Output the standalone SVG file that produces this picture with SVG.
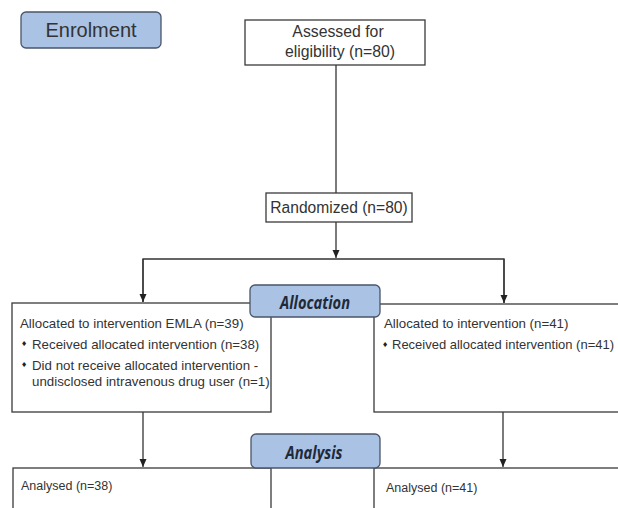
<svg xmlns="http://www.w3.org/2000/svg" width="618" height="508" viewBox="0 0 618 508">
<defs>
<marker id="ah" markerUnits="userSpaceOnUse" markerWidth="8" markerHeight="9" refX="8" refY="4" orient="auto" viewBox="0 0 8 8">
<path d="M0,0.5 L8,4 L0,7.5 Z" fill="#222"/>
</marker>
</defs>
<style>
.box{fill:#fff;stroke:#3a3a3a;stroke-width:1.3}
.hdr{fill:#aac2e4;stroke:#4a5568;stroke-width:1.3}
.t{font-family:"Liberation Sans",Arial,sans-serif;fill:#333}
.h{font-family:"Open Sans","Liberation Sans",sans-serif;font-style:italic;font-weight:700;fill:#1e2a3a}
.ln{stroke:#333;stroke-width:1.3;fill:none}
.b{font-family:"DejaVu Sans",sans-serif;font-size:7px;fill:#222}
</style>
<rect width="618" height="508" fill="#fff"/>
<g id="connectors">
<line class="ln" x1="336" y1="65" x2="336" y2="193"/>
<line class="ln" x1="336" y1="222" x2="336" y2="258" marker-end="url(#ah)"/>
<polyline class="ln" points="143,302 143,259 504,259 504,303"/>
<line class="ln" x1="143" y1="259" x2="143" y2="302" marker-end="url(#ah)"/>
<line class="ln" x1="504" y1="259" x2="504" y2="303" marker-end="url(#ah)"/>
<line class="ln" x1="143" y1="412" x2="143" y2="467" marker-end="url(#ah)"/>
<line class="ln" x1="503" y1="412" x2="503" y2="467" marker-end="url(#ah)"/>
</g>
<g id="enrolment">
<rect class="hdr" x="21" y="12" width="140" height="36" rx="5"/>
<text class="t" x="91" y="37" font-size="20" text-anchor="middle">Enrolment</text>
</g>
<g id="assessed">
<rect class="box" x="245" y="20" width="180" height="45"/>
<text class="t" x="338" y="37" font-size="15.8" text-anchor="middle">Assessed for</text>
<text class="t" x="340" y="57" font-size="15.8" text-anchor="middle">eligibility (n=80)</text>
</g>
<g id="randomized">
<rect class="box" x="266" y="193" width="146" height="29"/>
<text class="t" x="339" y="213" font-size="15.6" text-anchor="middle">Randomized (n=80)</text>
</g>
<g id="alloc-left">
<rect class="box" x="12" y="303" width="259" height="109"/>
<text class="t" x="20" y="328" font-size="13.3">Allocated to intervention EMLA (n=39)</text>
<text class="b" x="21" y="346">♦</text>
<text class="t" x="32" y="349" font-size="13.3">Received allocated intervention (n=38)</text>
<text class="b" x="21" y="367">♦</text>
<text class="t" x="32" y="370" font-size="13.3">Did not receive allocated intervention -</text>
<text class="t" x="32" y="386" font-size="13.3">undisclosed intravenous drug user (n=1)</text>
</g>
<g id="alloc-right">
<rect class="box" x="374" y="304" width="260" height="108"/>
<text class="t" x="384" y="328" font-size="13.3">Allocated to intervention (n=41)</text>
<text class="b" x="382" y="347">♦</text>
<text class="t" x="392" y="349" font-size="13.3" textLength="222" lengthAdjust="spacingAndGlyphs">Received allocated intervention (n=41)</text>
</g>
<g id="allocation">
<rect class="hdr" x="250" y="285" width="130" height="32" rx="5"/>
<text class="h" x="315" y="309" font-size="18" text-anchor="middle" textLength="70" lengthAdjust="spacingAndGlyphs">Allocation</text>
</g>
<g id="analysed-left">
<rect class="box" x="13" y="468" width="258" height="50"/>
<text class="t" x="21" y="490" font-size="12.5">Analysed (n=38)</text>
</g>
<g id="analysed-right">
<rect class="box" x="374" y="468" width="260" height="50"/>
<text class="t" x="386" y="492" font-size="12.5">Analysed (n=41)</text>
</g>
<g id="analysis">
<rect class="hdr" x="251" y="434" width="129" height="34" rx="5"/>
<text class="h" x="314" y="459" font-size="18" text-anchor="middle" textLength="57" lengthAdjust="spacingAndGlyphs">Analysis</text>
</g>
</svg>
